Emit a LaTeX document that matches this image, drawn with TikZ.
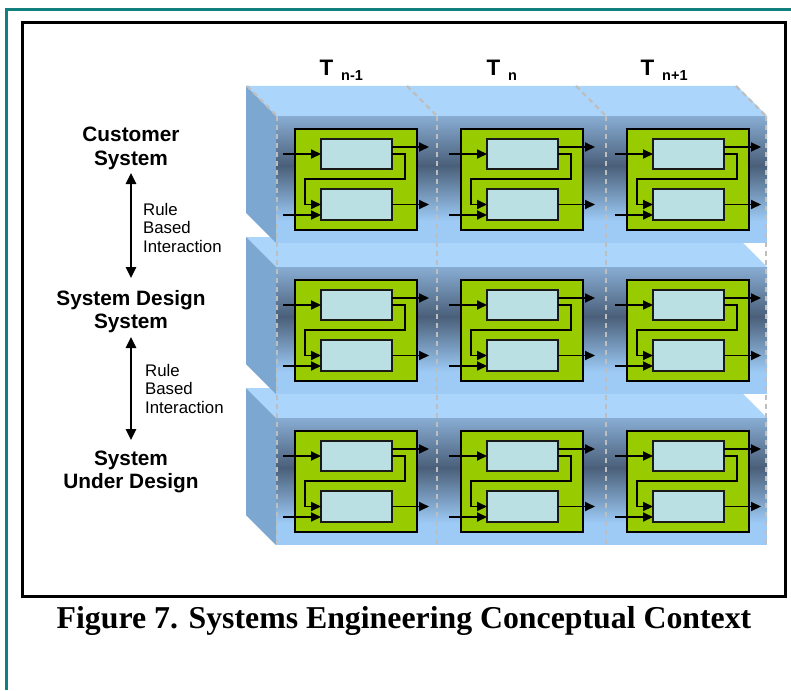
\documentclass[tikz,border=0pt]{standalone}
\usepackage{fontspec}
\setmainfont{Liberation Serif}
\newfontfamily\arialfont{Liberation Sans}
\usetikzlibrary{arrows.meta,calc}

\definecolor{framecol}{HTML}{138080}
\definecolor{topface}{HTML}{ABD5FB}
\definecolor{sideface}{HTML}{7CA7D0}
\definecolor{fronttop}{HTML}{88ADD3}
\definecolor{frontdark}{HTML}{4A5F79}
\definecolor{frontlight}{HTML}{9DCBF6}
\definecolor{modgreen}{HTML}{99CC00}
\definecolor{cellcyan}{HTML}{BBE0E3}
\definecolor{gridgrey}{HTML}{BEBEBE}

\begin{document}
\begin{tikzpicture}[x=1pt,y=-1pt,
  greenbox/.style={draw=black,line width=1.4pt,fill=modgreen,inner sep=0pt,outer sep=0pt,
    minimum width=122pt,minimum height=101pt,anchor=north west},
  cellbox/.style={draw=black!90,line width=1.9pt,fill=cellcyan,inner sep=0pt,outer sep=0pt,
    minimum width=71pt,anchor=north west},
  sig/.style={line width=1.9pt,-{Triangle[length=10pt,width=9pt]}},
  interarrow/.style={line width=2.5pt,{Triangle[length=11pt,width=10pt]}-{Triangle[length=11pt,width=10pt]}},
  griddash/.style={gridgrey,line width=2.4pt,dash pattern=on 5pt off 4pt},
  lbl/.style={font=\arialfont\bfseries\fontsize{20.8}{24}\selectfont,inner sep=0pt,anchor=base},
  rulelbl/.style={font=\arialfont\fontsize{16.8}{19}\selectfont,inner sep=0pt,anchor=base west},
  tlbl/.style={font=\arialfont\bfseries\fontsize{22.4}{26}\selectfont,inner sep=0pt,anchor=base west},
  tsub/.style={font=\arialfont\bfseries\fontsize{14.5}{17}\selectfont,inner sep=0pt,anchor=base west},
  caption/.style={font=\bfseries\fontsize{31.8}{36}\selectfont,inner sep=0pt,anchor=base}]
\useasboundingbox (0,0) rectangle (791,690);
\fill[white] (0,0) rectangle (791,690);

% page rule and figure frame
\draw[framecol,line width=2.6pt] (6.5,690) -- (6.5,9.3) -- (791,9.3);
\draw[black,line width=3pt] (22.5,23) rectangle (785,596);

% three stacked slabs, drawn from the bottom one upwards
\foreach \F in {418,267,116} {
  \fill[topface] (246,\F-30) -- (737,\F-30) -- (767,\F) -- (276,\F) -- cycle;
  \fill[sideface] (246,\F-30) -- (276,\F) -- (276,\F+127) -- (246,\F+97) -- cycle;
  \shade[top color=fronttop,bottom color=frontdark] (276,\F) rectangle (767,\F+50);
  \shade[top color=frontdark,bottom color=frontlight] (276,\F+49.5) rectangle (767,\F+105);
  \fill[frontlight] (276,\F+104.5) rectangle (767,\F+127);
}

% time-step grid lines
\foreach \X in {277,437,606,766} {
  \draw[griddash] (\X,116) -- (\X,545);
  \draw[griddash] (\X-30,86) -- (\X,116);
}

% one module per layer and time step
\foreach \gy [count=\r] in {129,280,431} {
  \foreach \gx [count=\c] in {295,461,627} {
    \node[greenbox] (g\r\c) at (\gx,\gy) {};
    \node[cellbox,minimum height=30pt] (u\r\c) at (\gx+26,\gy+10) {};
    \node[cellbox,minimum height=31pt] (l\r\c) at (\gx+26,\gy+60) {};
    \coordinate (ia\r\c) at (\gx-12,\gy+25);
    \coordinate (ib\r\c) at (\gx-12,\gy+86);
    \coordinate (oa\r\c) at (\gx+134,\gy+18);
    \coordinate (ob\r\c) at (\gx+134,\gy+75.5);
    \draw[sig] (ia\r\c) -- (u\r\c.west);
    \draw[sig] (u\r\c.east |- oa\r\c) -- (oa\r\c);
    \draw[sig] (u\r\c.east) -- (\gx+110,\gy+25) -- (\gx+110,\gy+50)
      -- (\gx+10,\gy+50) |- (l\r\c.west);
    \draw[sig] (ib\r\c) -- (l\r\c.west |- ib\r\c);
    \draw[sig] (l\r\c.east) -- (ob\r\c);
  }
}

% time-step headings
\node[tlbl] (t1) at (319.5,76) {T};
\node[tsub] (t1s) at (341,81) {n-1};
\node[tlbl] (t2) at (486.5,76) {T};
\node[tsub] (t2s) at (508,81) {n};
\node[tlbl] (t3) at (640.5,76) {T};
\node[tsub] (t3s) at (662,81) {n+1};

% system labels
\node[lbl] (cs1) at (131,141) {Customer};
\node[lbl] (cs2) at (131,165) {System};
\node[lbl] (sd1) at (131,305) {System Design};
\node[lbl] (sd2) at (131,328) {System};
\node[lbl] (su1) at (131,465) {System};
\node[lbl] (su2) at (131,488) {Under Design};

\draw[interarrow] ($(cs2.base)+(0,8)$) -- ($(sd1.base)+(0,-27)$);
\draw[interarrow] ($(sd2.base)+(0,9)$) -- ($(su1.base)+(0,-25)$);

\node[rulelbl] (ra1) at (143,215) {Rule};
\node[rulelbl] (ra2) at (143,233) {Based};
\node[rulelbl] (ra3) at (143,252) {Interaction};
\node[rulelbl] (rb1) at (145,376) {Rule};
\node[rulelbl] (rb2) at (145,394) {Based};
\node[rulelbl] (rb3) at (145,413) {Interaction};

% caption
\node[caption] (cap) at (404,628) {Figure 7. Systems Engineering Conceptual Context};
\end{tikzpicture}
\end{document}
